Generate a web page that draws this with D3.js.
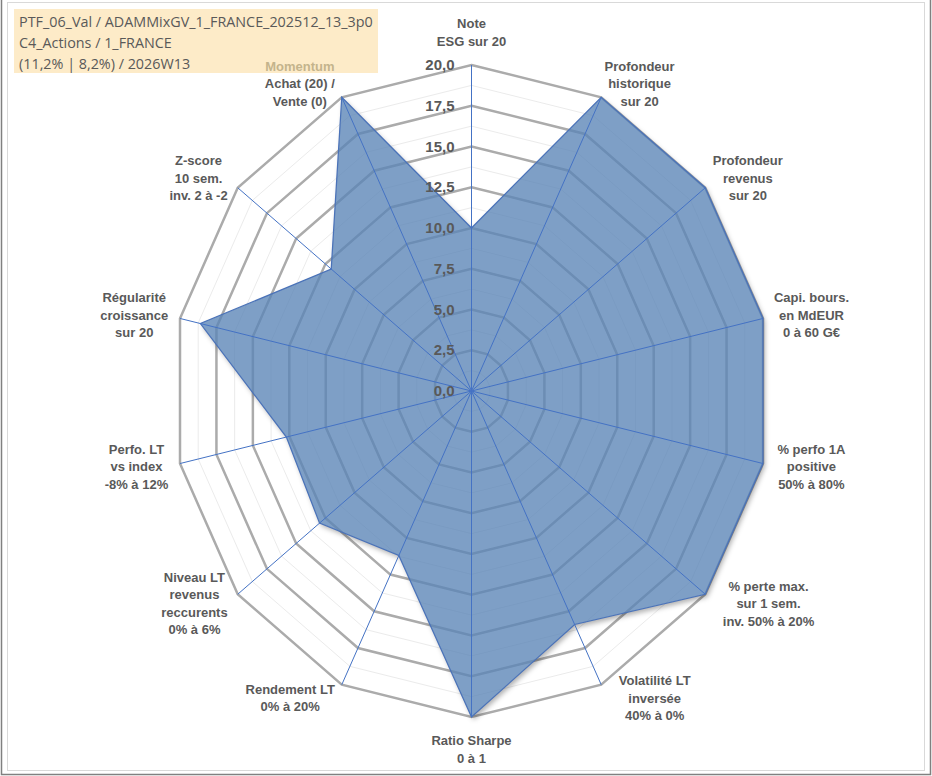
<!DOCTYPE html>
<html>
<head>
<meta charset="utf-8">
<script src="https://cdn.jsdelivr.net/npm/d3@7"></script>
<style>
  body { margin: 0; background: #fff; }
  svg { display: block; }
</style>
</head>
<body>
<div id="chart"></div>
<script>
// axis labels, clockwise from the top
const axisLabels = [
    ["Note", "ESG sur 20"],
    ["Profondeur", "historique", "sur 20"],
    ["Profondeur", "revenus", "sur 20"],
    ["Capi. bours.", "en MdEUR", "0 à 60 G€"],
    ["% perfo 1A", "positive", "50% à 80%"],
    ["% perte max.", "sur 1 sem.", "inv. 50% à 20%"],
    ["Volatilité LT", "inversée", "40% à 0%"],
    ["Ratio Sharpe", "0 à 1"],
    ["Rendement LT", "0% à 20%"],
    ["Niveau LT", "revenus", "reccurents", "0% à 6%"],
    ["Perfo. LT", "vs index", "-8% à 12%"],
    ["Régularité", "croissance", "sur 20"],
    ["Z-score", "10 sem.", "inv. 2 à -2"],
    ["Momentum", "Achat (20) /", "Vente (0)"]
];
const scores = [10, 20, 20, 20, 20, 20, 15.9, 20, 11.2, 13, 12.7, 18.6, 12, 20];
const majorTicks = [0, 2.5, 5, 7.5, 10, 12.5, 15, 17.5, 20];
const minorTicks = [1.25, 3.75, 6.25, 8.75, 11.25, 13.75, 16.25, 18.75];
const titleLines = [
    "PTF_06_Val / ADAMMixGV_1_FRANCE_202512_13_3p0",
    "C4_Actions / 1_FRANCE",
    "(11,2% | 8,2%) / 2026W13"
];

const width = 932, height = 776;
const cx = 471.5, cy = 391;
const n = axisLabels.length;

const svg = d3.select("#chart").append("svg")
    .attr("width", width)
    .attr("height", height);

// frame
svg.append("rect").attr("x", 7.5).attr("y", 2.5).attr("width", 917).attr("height", 768)
    .attr("fill", "#fff").attr("stroke", "#d9d9d9");
svg.append("path").attr("d", "M1.5,0V774.5H930.5V0")
    .attr("fill", "none").attr("stroke", "#808080").attr("stroke-width", 1.5);

// title box (drawn first, the Momentum label sits on top of it)
svg.append("rect").attr("x", 14).attr("y", 9).attr("width", 364).attr("height", 64)
    .attr("fill", "#fdebc8");
const title = svg.append("g")
    .attr("font-family", "Open Sans, sans-serif")
    .attr("fill", "#595959");
const tt = title.selectAll("text").data(titleLines).enter().append("text")
    .attr("x", 19)
    .attr("y", (d, i) => 27 + i * 21)
    .attr("font-size", 15)
    .text(d => d);
const w0 = tt.node().getComputedTextLength();
tt.attr("font-size", 15 * 354 / w0);

// radar is slightly taller than wide
const rx = d3.scaleLinear().domain([0, 20]).range([0, 299]);
const ry = d3.scaleLinear().domain([0, 20]).range([0, 326]);
const angle = d3.scaleLinear().domain([0, n]).range([0, 2 * Math.PI]);

const px = (v, i) => cx + rx(v) * Math.sin(angle(i));
const py = (v, i) => cy - ry(v) * Math.cos(angle(i));

const ring = v => d3.range(n).map(i => [px(v, i), py(v, i)]);
const line = d3.line().curve(d3.curveLinearClosed);
const dataPath = line(scores.map((v, i) => [px(v, i), py(v, i)]));

// shadow only outside the polygon, so the transparent fill stays light
const defs = svg.append("defs");
defs.append("filter").attr("id", "blur")
    .attr("x", "-10%").attr("y", "-10%").attr("width", "120%").attr("height", "120%")
    .append("feGaussianBlur").attr("stdDeviation", 2.5);
const mask = defs.append("mask").attr("id", "outside")
    .attr("maskUnits", "userSpaceOnUse")
    .attr("x", 0).attr("y", 0).attr("width", width).attr("height", height);
mask.append("rect").attr("width", width).attr("height", height).attr("fill", "#fff");
mask.append("path").attr("d", dataPath).attr("fill", "#000");

const g = svg.append("g");

g.selectAll(".minor").data(minorTicks).enter().append("path")
    .attr("d", d => line(ring(d)))
    .attr("fill", "none").attr("stroke", "#ebebeb").attr("stroke-width", 1);

g.selectAll(".major").data(majorTicks.filter(d => d > 0)).enter().append("path")
    .attr("d", d => line(ring(d)))
    .attr("fill", "none").attr("stroke", "#ababab").attr("stroke-width", 2.5);

g.append("g").attr("mask", "url(#outside)")
    .append("path")
    .attr("d", dataPath)
    .attr("transform", "translate(2,3)")
    .attr("fill", "#000").attr("fill-opacity", 0.3)
    .attr("filter", "url(#blur)");

// data polygon
g.append("path")
    .attr("d", dataPath)
    .attr("fill", "#5a84b6").attr("fill-opacity", 0.78)
    .attr("stroke", "#4a72b8").attr("stroke-width", 1.25);

// spokes
g.selectAll(".spoke").data(d3.range(n)).enter().append("line")
    .attr("x1", cx).attr("y1", cy)
    .attr("x2", i => px(20, i)).attr("y2", i => py(20, i))
    .attr("stroke", "#4472c4").attr("stroke-width", 1);

// tick labels
const fr = d3.formatLocale({ decimal: ",", thousands: " ", grouping: [3], currency: ["", "€"] });
const fmt = fr.format(".1f");
g.selectAll(".tick").data(majorTicks).enter().append("text")
    .attr("x", cx - 17)
    .attr("y", d => cy - ry(d) + 5)
    .attr("text-anchor", "end")
    .attr("font-family", "Liberation Sans, Arial, sans-serif")
    .attr("font-weight", "bold")
    .attr("font-size", 15)
    .attr("fill", "#595959")
    .text(d => fmt(d));

// axis labels
const lineH = 17.5;
axisLabels.forEach((lines, i) => {
    const t = g.append("text")
        .attr("text-anchor", "middle")
        .attr("font-family", "Liberation Sans, Arial, sans-serif")
        .attr("font-weight", "bold")
        .attr("font-size", 13)
        .attr("fill", "#595959");
    lines.forEach((s, k) => {
        t.append("tspan")
            .attr("fill", i === n - 1 && k === 0 ? "#c4b48c" : null)
            .text(s);
    });
    let w = 0;
    t.selectAll("tspan").each(function () { w = Math.max(w, this.getComputedTextLength()); });
    const h = lines.length * lineH;
    const a = angle(i), s = Math.sin(a), c = Math.cos(a);
    let lx = px(20, i), ly = py(20, i);
    if (Math.abs(s) < 0.1) {
        ly += -c * (h / 2 + 15);
    } else {
        let gap = 3 + 9 * Math.abs(s);
        if (s > 0) gap += Math.max(0, -c) * 12 - Math.max(0, c) * 4;
        lx += Math.sign(s) * (w / 2 + gap);
        ly += -c * 15;
    }
    const top = ly - h / 2;
    t.selectAll("tspan")
        .attr("x", lx)
        .attr("y", (d, k) => top + lineH * k + lineH / 2 + 4.5);
});
</script>
</body>
</html>
